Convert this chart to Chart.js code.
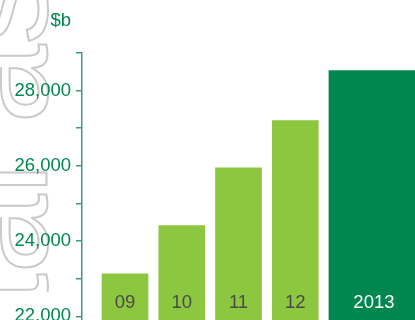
<!DOCTYPE html>
<html>
<head>
<meta charset="utf-8">
<script src="https://cdn.jsdelivr.net/npm/chart.js@4.4.0/dist/chart.umd.min.js"></script>
<style>
  html, body { margin: 0; padding: 0; background: #fff; }
  #wrap { position: relative; width: 415px; height: 320px; overflow: hidden; }
  /* big outlined word behind the chart, cut by the left edge */
  #bg-clip { position: absolute; left: 0; top: 0; width: 100px; height: 292px; overflow: hidden; }
  #bg-word {
    position: absolute; left: -73px; top: 463px;
    transform-origin: 0 0; transform: rotate(-90deg);
    font: 142px "Liberation Sans", Arial, sans-serif; line-height: 1;
    white-space: nowrap; color: transparent;
    -webkit-text-stroke: 2px #cacaca;
  }
  #chart-box { position: absolute; left: 0; top: 0; }
</style>
</head>
<body>
<div id="wrap">
  <div id="bg-clip"><div id="bg-word">Total assets</div></div>
  <div id="chart-box"><canvas id="assets-chart" width="440" height="370"></canvas></div>
</div>
<script>
//DATA
let labels = ['09', '10', '11', '12', '2013'];
let years = [2009, 2010, 2011, 2012, 2013];
let values = [23130, 24410, 25950, 27200, 28530];
let yTickLabels = [22000, 24000, 26000, 28000];
let unitLabel = '$b';

let green = '#00874f';
let lime = '#8dc63f';
let axisGreen = '#3f9e6e';
let font = '"Liberation Sans", Arial, sans-serif';

//LABELS INSIDE THE BARS + UNIT
const barLabels = {
  id: 'barLabels',
  afterDatasetsDraw(chart) {
    let ctx = chart.ctx;
    ctx.save();
    ctx.font = '18.5px ' + font;
    ctx.textAlign = 'center';
    ctx.textBaseline = 'middle';
    chart.data.datasets.forEach((ds, d) => {
      chart.getDatasetMeta(d).data.forEach((bar, i) => {
        ctx.fillStyle = ds.labelColor;
        ctx.fillText(ds.barLabels[i], bar.x, chart.chartArea.bottom - 51);
      });
    });

    let y = chart.scales.y;
    ctx.textAlign = 'right';
    ctx.fillStyle = green;
    ctx.fillText(unitLabel, y.right - 11, chart.chartArea.top - 32);
    ctx.restore();
  }
};

let n = years.length - 1;

let data = {
  datasets: [{
    data: years.slice(0, n).map((yr, i) => ({ x: yr, y: values[i] })),
    barLabels: labels.slice(0, n),
    labelColor: '#4a4a4a',
    backgroundColor: lime,
    barThickness: 46,
    grouped: false,
    xAxisID: 'x'
  }, {
    data: [{ x: years[n], y: values[n] }],
    barLabels: [labels[n]],
    labelColor: '#ffffff',
    backgroundColor: green,
    barThickness: 90,
    grouped: false,
    xAxisID: 'x2'
  }]
};

let config = {
  type: 'bar',
  data: data,
  plugins: [barLabels],
  options: {
    responsive: false,
    animation: false,
    layout: { padding: { top: 53, bottom: 16, left: 0, right: 0 } },
    plugins: { legend: { display: false }, tooltip: { enabled: false } },
    scales: {
      x: { type: 'linear', display: false, offset: false, min: 2008.242, max: 2014.551 },
      x2: { type: 'linear', display: false, offset: false, min: 2007.855, max: 2014.164 },
      y: {
        min: 21000,
        max: 29000,
        afterFit: (s) => { s.width = 82; },
        ticks: {
          stepSize: 1000,
          padding: 5,
          color: green,
          font: { family: font, size: 18.5 },
          callback: (v) => yTickLabels.includes(v) ? v.toLocaleString('en-US') : ''
        },
        grid: { drawOnChartArea: false, color: axisGreen, tickLength: 6, lineWidth: 1.5 },
        border: { color: axisGreen, width: 1.5 }
      }
    }
  }
};

let assetsChart = new Chart(document.getElementById('assets-chart'), config);
</script>
</body>
</html>
